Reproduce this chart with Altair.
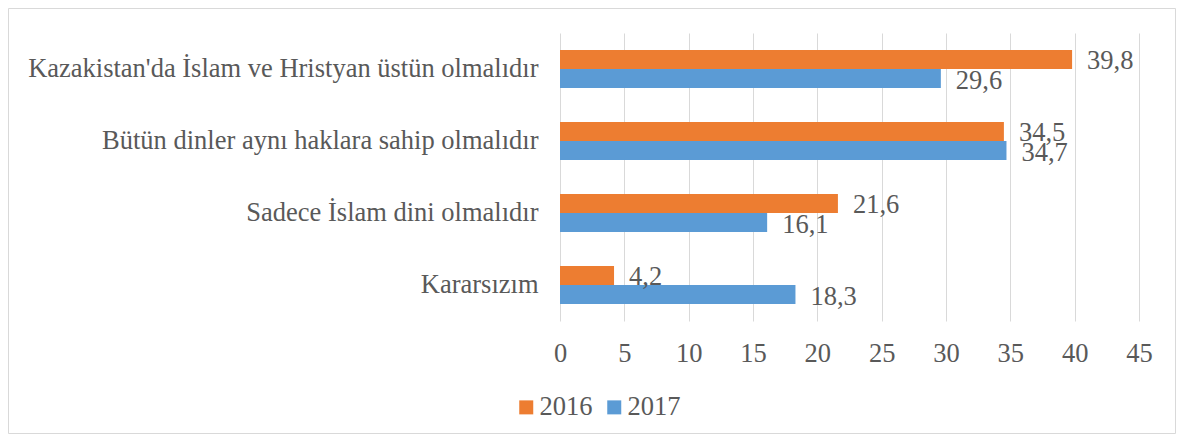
import altair as alt
import pandas as pd

categories = [
    "Kazakistan'da İslam ve Hristyan üstün olmalıdır",
    "Bütün dinler aynı haklara sahip olmalıdır",
    "Sadece İslam dini olmalıdır",
    "Kararsızım",
]
years = ["2016", "2017"]
values_2016 = [39.8, 34.5, 21.6, 4.2]
values_2017 = [29.6, 34.7, 16.1, 18.3]
x_ticks = [0, 5, 10, 15, 20, 25, 30, 35, 40, 45]

rows = []
for c, v16, v17 in zip(categories, values_2016, values_2017):
    rows.append({"cat": c, "year": "2016", "value": v16})
    rows.append({"cat": c, "year": "2017", "value": v17})
df = pd.DataFrame(rows)
df["label"] = df["value"].map(lambda v: f"{v:.1f}".replace(".", ","))

FONT = "Liberation Serif"
GREY = "#595959"
FS = 26.5

y_enc = alt.Y(
    "cat:N",
    sort=categories,
    title=None,
    scale=alt.Scale(paddingInner=0.47, paddingOuter=0.235),
    axis=alt.Axis(
        domain=False, ticks=False, labelPadding=22, labelFontSize=FS,
        labelFont=FONT, labelColor=GREY, labelLimit=0, grid=False,
    ),
)
yoff = alt.YOffset("year:N", sort=years)
x_enc = alt.X(
    "value:Q",
    title=None,
    scale=alt.Scale(domain=[0, 45], nice=False),
    axis=alt.Axis(
        values=x_ticks, domain=False, ticks=False, grid=True,
        gridColor="#d9d9d9", gridWidth=1, labelPadding=19,
        labelFontSize=FS, labelFont=FONT, labelColor=GREY,
        labelFlush=False,
    ),
)
color_enc = alt.Color(
    "year:N",
    sort=years,
    scale=alt.Scale(domain=years, range=["#ED7D31", "#5B9BD5"]),
    legend=alt.Legend(
        title=None, orient="none", direction="horizontal",
        legendX=-47, legendY=361, symbolType="square", symbolSize=196,
        symbolStrokeWidth=0, labelFontSize=FS, labelFont=FONT,
        labelColor=GREY, labelOffset=0, columnPadding=8, padding=0,
    ),
)

bars = alt.Chart(df).mark_bar().encode(
    y=y_enc, yOffset=yoff, x=x_enc, color=color_enc
)
texts = alt.Chart(df).mark_text(
    align="left", baseline="middle", dx=15, dy=2, fontSize=FS,
    font=FONT, color=GREY,
).encode(y=y_enc, yOffset=yoff, x=x_enc, text="label:N")

border = alt.Chart(pd.DataFrame({"a": [0]})).mark_rect(
    fill=None, stroke="#d9d9d9", strokeWidth=1
).encode(
    x=alt.value(-551.5), x2=alt.value(615.5),
    y=alt.value(-24.5), y2=alt.value(400.5),
)

chart = alt.layer(bars, texts, border).properties(
    width=579, height=288,
    autosize=alt.AutoSizeParams(type="none"),
    padding={"left": 552, "top": 25, "right": 37, "bottom": 113},
).configure_view(stroke=None)

chart.save("out.html", embed_options={"renderer": "svg", "actions": False})
